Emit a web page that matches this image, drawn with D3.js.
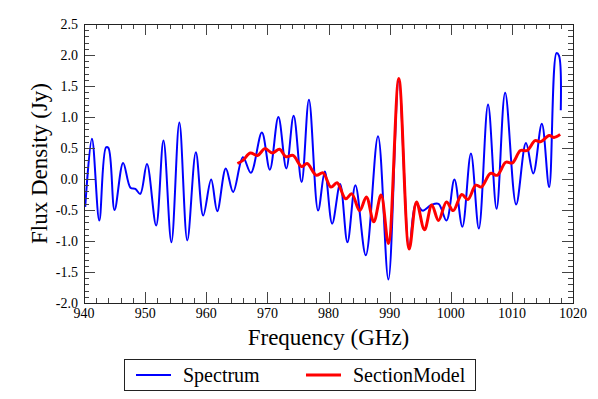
<!DOCTYPE html>
<html><head><meta charset="utf-8">
<script src="https://cdn.jsdelivr.net/npm/d3@7"></script>
<style>body{margin:0;background:#fff}svg{display:block}</style>
</head><body>
<svg id="c" width="598" height="399"></svg>
<script>
// Spectrum (blue)
const specFreq = [940.2,941.3,942.5,943.6,944.0,945.0,946.4,947.6,948.4,949.2,950.3,951.8,953.0,954.3,955.6,956.9,958.3,959.5,960.8,961.8,963.2,964.4,966.0,967.3,969.1,970.4,971.8,973.1,974.3,975.6,976.8,978.3,979.4,980.6,981.9,983.1,984.4,986.1,988.1,989.8,991.5,993.2,994.3,995.4,996.8,998.0,999.3,1000.6,1001.9,1003.3,1004.6,1006.1,1007.5,1008.9,1010.7,1012.3,1013.5,1014.9,1016.1,1017.3,1017.7,1018.0];
const specFlux = [-0.45,0.65,-0.67,0.51,0.50,-0.50,0.26,-0.14,-0.16,-0.24,0.24,-0.75,0.62,-1.02,0.91,-0.99,0.43,-0.59,-0.01,-0.52,0.17,-0.21,0.35,0.10,0.75,0.15,1.00,0.17,1.02,-0.05,1.28,-0.51,0.12,-0.72,-0.08,-1.02,-0.10,-1.23,0.69,-1.62,1.58,-1.12,-0.40,-0.51,-0.42,-0.40,-0.67,-0.01,-0.77,0.41,-0.80,1.20,-0.48,1.39,-0.41,0.58,0.09,0.89,-0.13,2.03,1.99,1.11];
// SectionModel (red)
const modelFreq = [965.1,966.0,967.2,968.4,969.6,970.8,972.0,973.0,974.2,975.6,976.5,978.0,979.1,980.4,981.4,982.8,983.8,985.1,986.2,987.4,988.6,989.8,991.5,993.2,994.4,995.7,996.9,998.0,999.3,1000.4,1001.8,1002.8,1004.1,1005.0,1006.5,1007.6,1009.0,1010.1,1011.4,1012.5,1013.8,1014.7,1016.1,1016.9,1017.9];
const modelFlux = [0.25,0.30,0.42,0.38,0.49,0.42,0.48,0.36,0.38,0.20,0.25,0.06,0.10,-0.13,-0.06,-0.32,-0.24,-0.51,-0.29,-0.69,-0.26,-1.04,1.62,-1.13,-0.37,-0.82,-0.42,-0.67,-0.37,-0.51,-0.25,-0.33,-0.10,-0.13,0.09,0.06,0.27,0.26,0.46,0.46,0.62,0.60,0.70,0.67,0.72];
const xTicks = [940,950,960,970,980,990,1000,1010,1020];
const yTicks = [2.5,2.0,1.5,1.0,0.5,0.0,-0.5,-1.0,-1.5,-2.0];
const seriesNames = ["Spectrum","SectionModel"];
const seriesColors = ["#0000ff","#ff0000"];

const FONT = "'Liberation Serif', 'DejaVu Serif', serif";
const svg = d3.select("#c").attr("font-family", FONT);
const L=84,R=573,T=24,B=303;
const x = d3.scaleLinear().domain([940,1020]).range([L,R]);
const y = d3.scaleLinear().domain([-2.0,2.5]).range([B,T]);

const plot = svg.append("g");
plot.append("defs").append("clipPath").attr("id","clip").append("rect").attr("x",L).attr("y",T).attr("width",R-L).attr("height",B-T);

const line = d3.line().x(d=>x(d[0])).y(d=>y(d[1])).curve(d3.curveCatmullRom.alpha(0.5));
const spec = specFreq.map((f,i)=>[f,specFlux[i]]);
const model = modelFreq.map((f,i)=>[f,modelFlux[i]]);
plot.append("path").datum(spec).attr("d",line).attr("fill","none").attr("stroke",seriesColors[0]).attr("stroke-width",2).attr("clip-path","url(#clip)");
plot.append("path").datum(model).attr("d",line).attr("fill","none").attr("stroke",seriesColors[1]).attr("stroke-width",3).attr("stroke-linejoin","round").attr("clip-path","url(#clip)");

// ticks inward on all sides
const tc="#444";
const xMinor = d3.range(940,1020.01,2);
const yMinor = d3.range(-20,25.01,1).map(v=>v/10);
const tk = svg.append("g").attr("stroke",tc).attr("stroke-width",1);
xMinor.forEach(v=>{
  const maj = Math.abs(v%10)<1e-6; const len = maj?11:5; const px = Math.round(x(v))+0.5;
  tk.append("line").attr("x1",px).attr("x2",px).attr("y1",B).attr("y2",B-len);
  tk.append("line").attr("x1",px).attr("x2",px).attr("y1",T).attr("y2",T+len);
});
yMinor.forEach(v=>{
  const maj = Math.abs(Math.round(v*10)%5)===0; const len = maj?11:5; const py = Math.round(y(v))+0.5;
  tk.append("line").attr("x1",L).attr("x2",L+len).attr("y1",py).attr("y2",py);
  tk.append("line").attr("x1",R).attr("x2",R-len).attr("y1",py).attr("y2",py);
});
svg.append("rect").attr("x",L+0.5).attr("y",T+0.5).attr("width",R-L).attr("height",B-T).attr("fill","none").attr("stroke","#222").attr("stroke-width",1);

// tick labels
svg.append("g").selectAll("text").data(xTicks).join("text")
  .attr("x",d=>x(d)).attr("y",B+15).attr("text-anchor","middle").attr("font-size",14).attr("fill","#000").text(d=>d);
svg.append("g").selectAll("text").data(yTicks).join("text")
  .attr("x",L-6).attr("y",d=>y(d)+5).attr("text-anchor","end").attr("font-size",14).attr("fill","#000").text(d=>d.toFixed(1));

// axis titles
svg.append("text").attr("x",(L+R)/2).attr("y",345).attr("text-anchor","middle").attr("font-size",23).text("Frequency (GHz)");
svg.append("text").attr("transform",`translate(47,${(T+B)/2}) rotate(-90)`).attr("text-anchor","middle").attr("font-size",23).text("Flux Density (Jy)");

// legend
const lg = svg.append("g");
lg.append("rect").attr("x",124.5).attr("y",359.5).attr("width",351).attr("height",31).attr("fill","#fff").attr("stroke","#222");
const lx=[136,306], tx=[183,353];
seriesNames.forEach((n,i)=>{
  lg.append("line").attr("x1",lx[i]).attr("x2",lx[i]+35).attr("y1",375).attr("y2",375).attr("stroke",seriesColors[i]).attr("stroke-width",i?3:2);
  lg.append("text").attr("x",tx[i]).attr("y",382).attr("font-size",20).text(n);
});
</script>
</body></html>
